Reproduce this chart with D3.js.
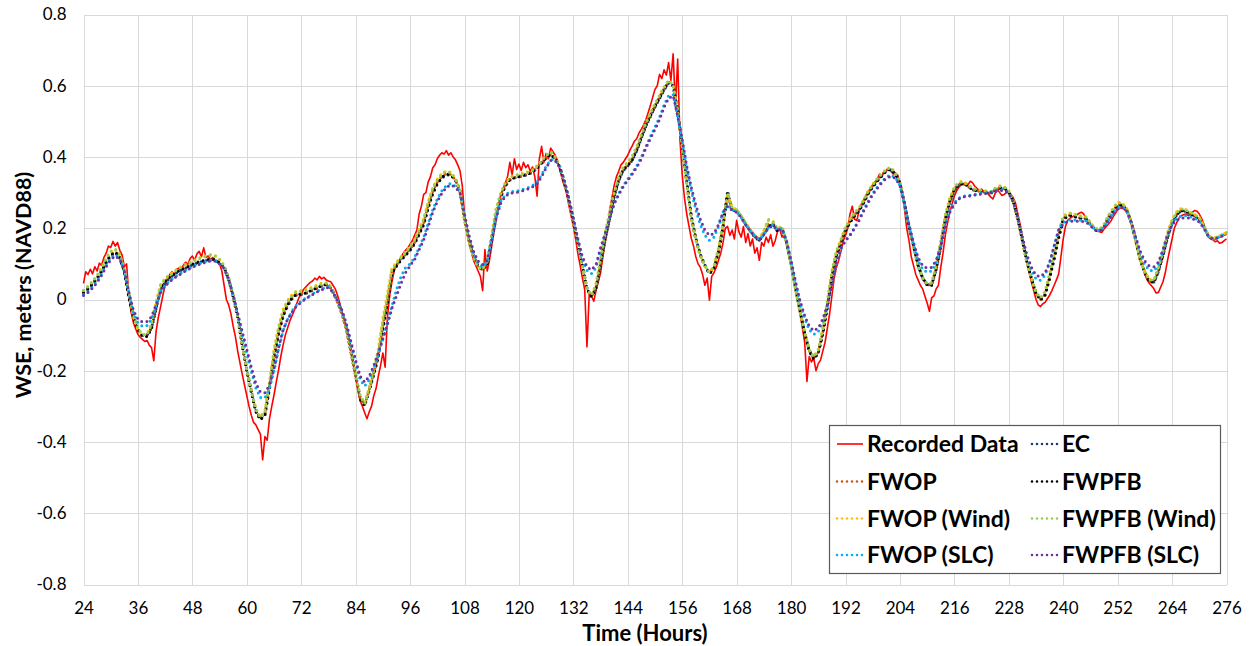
<!DOCTYPE html>
<html>
<head>
<meta charset="utf-8">
<script src="https://cdn.jsdelivr.net/npm/d3@7"></script>
<style>
  body { margin: 0; background: #fff; }
  svg text { font-family: Lato, "Liberation Sans", Arial, sans-serif; fill: #000; }
</style>
</head>
<body>
<svg id="chart" width="1253" height="646"></svg>
<script>
// ---- data -------------------------------------------------------------
// Model output: one value per hour, 24 h .. 276 h
const hours = d3.range(24, 277);
// Gauge record: one value per half hour, 24 h .. 276 h
const recordedTimes = d3.range(24, 276.25, 0.5);

const recorded = [
  0.045,0.078,0.070,0.085,0.072,0.092,0.080,0.102,0.096,0.118,0.130,0.150,0.146,0.163,0.150,0.160,0.138,0.125,0.092,0.100,0.010,-0.035,-0.065,-0.082,
  -0.098,-0.106,-0.112,-0.118,-0.115,-0.128,-0.135,-0.172,-0.090,-0.050,-0.020,0.012,0.040,0.060,0.070,0.078,0.068,0.085,0.088,0.080,0.096,0.105,0.098,0.115,
  0.122,0.110,0.128,0.135,0.120,0.145,0.118,0.122,0.112,0.118,0.108,0.104,0.100,0.080,0.040,0.000,-0.015,-0.040,-0.075,-0.105,-0.145,-0.178,-0.210,-0.240,
  -0.270,-0.300,-0.325,-0.345,-0.352,-0.365,-0.378,-0.450,-0.385,-0.395,-0.335,-0.300,-0.268,-0.232,-0.198,-0.160,-0.128,-0.100,-0.080,-0.060,-0.045,-0.030,-0.012,0.005,
  0.015,0.028,0.035,0.042,0.048,0.052,0.060,0.055,0.065,0.058,0.062,0.055,0.052,0.050,0.040,0.030,0.012,-0.010,-0.035,-0.060,-0.085,-0.115,-0.150,-0.185,
  -0.220,-0.255,-0.285,-0.300,-0.318,-0.335,-0.315,-0.300,-0.270,-0.250,-0.215,-0.185,-0.150,-0.190,-0.050,0.010,0.050,0.080,0.098,0.108,0.118,0.130,0.138,0.145,
  0.155,0.165,0.180,0.195,0.240,0.262,0.295,0.300,0.330,0.345,0.370,0.378,0.395,0.405,0.412,0.408,0.418,0.405,0.412,0.400,0.392,0.378,0.362,0.320,
  0.240,0.190,0.160,0.135,0.110,0.095,0.080,0.065,0.025,0.140,0.080,0.110,0.150,0.190,0.225,0.260,0.295,0.310,0.328,0.345,0.385,0.350,0.395,0.365,
  0.380,0.362,0.385,0.370,0.378,0.360,0.372,0.345,0.290,0.395,0.430,0.385,0.410,0.395,0.425,0.415,0.405,0.390,0.365,0.340,0.318,0.300,0.265,0.235,
  0.205,0.170,0.128,0.095,0.060,0.028,-0.133,0.015,0.010,-0.005,0.025,0.050,0.075,0.120,0.160,0.195,0.250,0.285,0.320,0.345,0.360,0.378,0.385,0.395,
  0.405,0.420,0.432,0.445,0.452,0.468,0.478,0.490,0.505,0.525,0.545,0.568,0.590,0.600,0.632,0.620,0.645,0.630,0.665,0.615,0.690,0.540,0.675,0.450,
  0.350,0.285,0.240,0.205,0.172,0.150,0.120,0.100,0.090,0.070,0.040,0.060,-0.002,0.065,0.075,0.090,0.110,0.130,0.160,0.200,0.205,0.180,0.195,0.170,
  0.222,0.190,0.175,0.205,0.160,0.185,0.150,0.170,0.130,0.145,0.110,0.160,0.150,0.175,0.160,0.182,0.150,0.165,0.190,0.198,0.175,0.185,0.160,0.130,
  0.100,0.075,0.035,0.000,-0.040,-0.080,-0.120,-0.230,-0.160,-0.175,-0.165,-0.200,-0.180,-0.170,-0.145,-0.120,-0.080,-0.040,0.010,0.060,0.090,0.110,0.135,0.165,
  0.180,0.200,0.240,0.262,0.225,0.222,0.250,0.268,0.280,0.292,0.302,0.310,0.322,0.330,0.338,0.352,0.345,0.358,0.362,0.368,0.360,0.352,0.355,0.350,
  0.325,0.305,0.255,0.200,0.165,0.120,0.095,0.070,0.055,0.040,0.030,0.010,-0.010,-0.033,0.005,0.010,0.030,0.040,0.090,0.130,0.180,0.215,0.245,0.268,
  0.290,0.305,0.315,0.322,0.325,0.328,0.322,0.332,0.328,0.318,0.312,0.305,0.310,0.302,0.306,0.295,0.288,0.282,0.298,0.308,0.300,0.292,0.295,0.300,
  0.300,0.295,0.285,0.270,0.240,0.210,0.170,0.140,0.105,0.075,0.048,0.025,0.000,-0.015,-0.020,-0.012,-0.008,0.002,0.012,0.025,0.040,0.055,0.072,0.120,
  0.170,0.205,0.223,0.228,0.232,0.235,0.238,0.242,0.245,0.240,0.230,0.220,0.212,0.205,0.198,0.192,0.190,0.188,0.198,0.205,0.212,0.220,0.232,0.242,
  0.252,0.256,0.258,0.252,0.248,0.240,0.220,0.200,0.170,0.140,0.120,0.095,0.070,0.055,0.045,0.038,0.030,0.018,0.020,0.035,0.050,0.075,0.110,0.140,
  0.170,0.200,0.215,0.228,0.235,0.238,0.240,0.236,0.238,0.245,0.250,0.248,0.240,0.228,0.212,0.190,0.175,0.170,0.168,0.162,0.165,0.158,0.160,0.165,
  0.170
];

const ec = [
  0.018,0.028,0.042,0.058,0.078,0.102,0.122,0.131,0.117,0.079,0.008,-0.048,
  -0.083,-0.100,-0.101,-0.080,-0.026,0.028,0.048,0.060,0.070,0.078,0.085,0.091,
  0.097,0.102,0.106,0.109,0.112,0.111,0.103,0.091,0.058,0.012,-0.047,-0.124,
  -0.196,-0.256,-0.310,-0.334,-0.322,-0.250,-0.162,-0.098,-0.048,-0.018,0.003,0.013,
  0.014,0.017,0.023,0.029,0.035,0.040,0.041,0.022,-0.004,-0.038,-0.082,-0.146,
  -0.210,-0.275,-0.294,-0.254,-0.210,-0.162,-0.084,-0.014,0.072,0.093,0.110,0.123,
  0.138,0.156,0.182,0.209,0.256,0.296,0.323,0.341,0.350,0.349,0.335,0.305,
  0.226,0.166,0.121,0.094,0.084,0.099,0.168,0.243,0.288,0.318,0.335,0.341,
  0.344,0.347,0.351,0.357,0.369,0.382,0.397,0.407,0.395,0.372,0.331,0.281,
  0.224,0.162,0.097,0.033,0.010,0.031,0.097,0.167,0.226,0.288,0.333,0.362,
  0.375,0.391,0.418,0.453,0.486,0.514,0.540,0.564,0.588,0.608,0.600,0.532,
  0.432,0.332,0.235,0.172,0.127,0.097,0.074,0.088,0.134,0.204,0.305,0.252,
  0.251,0.233,0.211,0.193,0.176,0.166,0.184,0.204,0.211,0.193,0.200,0.161,
  0.102,0.033,-0.032,-0.092,-0.142,-0.165,-0.149,-0.096,-0.022,0.062,0.122,0.158,
  0.193,0.216,0.234,0.249,0.271,0.296,0.316,0.332,0.347,0.361,0.365,0.352,
  0.329,0.271,0.207,0.152,0.097,0.062,0.042,0.041,0.084,0.146,0.222,0.273,
  0.306,0.321,0.325,0.318,0.308,0.305,0.303,0.300,0.298,0.307,0.312,0.312,
  0.302,0.276,0.227,0.167,0.107,0.062,0.020,0.001,0.013,0.059,0.113,0.172,
  0.223,0.234,0.236,0.230,0.228,0.226,0.212,0.196,0.192,0.204,0.229,0.247,
  0.264,0.264,0.252,0.216,0.166,0.112,0.077,0.052,0.049,0.079,0.123,0.173,
  0.213,0.237,0.249,0.247,0.240,0.234,0.226,0.206,0.179,0.170,0.174,0.180,
  0.185
];

const fwop = [
  0.022,0.032,0.046,0.062,0.082,0.107,0.127,0.134,0.120,0.080,0.015,-0.048,
  -0.086,-0.102,-0.102,-0.078,-0.020,0.034,0.052,0.064,0.073,0.081,0.088,0.094,
  0.100,0.105,0.109,0.112,0.115,0.113,0.104,0.090,0.056,0.006,-0.052,-0.130,
  -0.198,-0.258,-0.312,-0.335,-0.320,-0.245,-0.155,-0.090,-0.040,-0.012,0.008,0.017,
  0.017,0.020,0.026,0.032,0.038,0.042,0.042,0.020,-0.008,-0.042,-0.086,-0.150,
  -0.214,-0.278,-0.296,-0.252,-0.206,-0.155,-0.074,-0.004,0.078,0.097,0.114,0.127,
  0.142,0.160,0.188,0.216,0.264,0.304,0.330,0.346,0.354,0.351,0.336,0.303,
  0.222,0.162,0.118,0.092,0.083,0.102,0.174,0.248,0.292,0.322,0.338,0.343,
  0.346,0.349,0.353,0.359,0.371,0.384,0.399,0.409,0.395,0.371,0.328,0.277,
  0.220,0.156,0.092,0.029,0.008,0.034,0.102,0.174,0.232,0.292,0.337,0.366,
  0.378,0.394,0.422,0.456,0.490,0.518,0.544,0.568,0.592,0.611,0.600,0.528,
  0.428,0.326,0.230,0.168,0.124,0.094,0.074,0.088,0.136,0.206,0.298,0.252,
  0.250,0.233,0.212,0.194,0.177,0.167,0.188,0.212,0.214,0.194,0.202,0.160,
  0.098,0.028,-0.036,-0.094,-0.143,-0.166,-0.148,-0.092,-0.016,0.068,0.128,0.162,
  0.197,0.220,0.238,0.252,0.274,0.300,0.319,0.335,0.350,0.363,0.367,0.353,
  0.328,0.268,0.203,0.148,0.094,0.060,0.041,0.042,0.088,0.152,0.228,0.278,
  0.310,0.324,0.327,0.319,0.309,0.306,0.304,0.301,0.299,0.309,0.314,0.313,
  0.302,0.274,0.223,0.163,0.104,0.059,0.018,0.000,0.014,0.063,0.118,0.178,
  0.227,0.236,0.238,0.231,0.229,0.228,0.213,0.196,0.193,0.206,0.232,0.250,
  0.266,0.266,0.253,0.215,0.164,0.110,0.075,0.051,0.049,0.082,0.128,0.178,
  0.217,0.240,0.251,0.249,0.241,0.235,0.227,0.206,0.178,0.170,0.174,0.180,
  0.186
];

const fwpfb = [
  0.020,0.030,0.044,0.060,0.080,0.105,0.125,0.133,0.118,0.078,0.005,-0.050,
  -0.085,-0.103,-0.104,-0.082,-0.025,0.030,0.050,0.062,0.072,0.080,0.086,0.092,
  0.098,0.103,0.107,0.110,0.113,0.112,0.104,0.092,0.058,0.010,-0.050,-0.128,
  -0.200,-0.260,-0.315,-0.338,-0.325,-0.250,-0.160,-0.095,-0.045,-0.015,0.005,0.015,
  0.015,0.018,0.024,0.030,0.036,0.041,0.042,0.022,-0.005,-0.040,-0.085,-0.150,
  -0.215,-0.280,-0.298,-0.255,-0.210,-0.160,-0.080,-0.010,0.075,0.095,0.112,0.125,
  0.140,0.158,0.185,0.212,0.260,0.300,0.326,0.343,0.352,0.350,0.336,0.305,
  0.225,0.165,0.120,0.093,0.083,0.100,0.170,0.245,0.290,0.320,0.337,0.342,
  0.345,0.348,0.352,0.358,0.370,0.383,0.398,0.408,0.395,0.372,0.330,0.280,
  0.223,0.160,0.095,0.030,0.008,0.032,0.100,0.170,0.228,0.290,0.335,0.364,
  0.376,0.392,0.420,0.455,0.488,0.516,0.542,0.566,0.590,0.610,0.600,0.530,
  0.430,0.330,0.232,0.170,0.125,0.095,0.072,0.088,0.135,0.205,0.300,0.250,
  0.250,0.232,0.210,0.192,0.175,0.165,0.185,0.205,0.212,0.192,0.200,0.160,
  0.100,0.030,-0.035,-0.095,-0.145,-0.168,-0.150,-0.095,-0.020,0.065,0.125,0.160,
  0.195,0.218,0.236,0.250,0.272,0.298,0.317,0.333,0.348,0.362,0.366,0.352,
  0.328,0.270,0.205,0.150,0.095,0.060,0.040,0.040,0.085,0.148,0.225,0.275,
  0.308,0.322,0.326,0.318,0.308,0.305,0.303,0.300,0.298,0.308,0.313,0.312,
  0.302,0.275,0.225,0.165,0.105,0.060,0.017,-0.002,0.012,0.060,0.115,0.175,
  0.225,0.235,0.237,0.230,0.228,0.227,0.212,0.195,0.192,0.205,0.230,0.248,
  0.265,0.265,0.252,0.215,0.165,0.110,0.075,0.050,0.048,0.080,0.125,0.175,
  0.215,0.238,0.250,0.248,0.240,0.234,0.226,0.205,0.178,0.170,0.174,0.180,
  0.186
];

const fwopWind = [
  0.026,0.038,0.052,0.068,0.090,0.117,0.136,0.140,0.125,0.082,0.016,-0.048,
  -0.084,-0.099,-0.097,-0.066,-0.005,0.043,0.060,0.070,0.080,0.088,0.096,0.102,
  0.108,0.114,0.119,0.123,0.126,0.124,0.113,0.096,0.060,0.010,-0.050,-0.127,
  -0.196,-0.256,-0.307,-0.330,-0.312,-0.230,-0.140,-0.076,-0.028,-0.002,0.015,0.025,
  0.025,0.028,0.033,0.038,0.044,0.048,0.046,0.024,-0.006,-0.041,-0.083,-0.146,
  -0.210,-0.270,-0.290,-0.246,-0.195,-0.138,-0.052,0.016,0.088,0.104,0.120,0.134,
  0.150,0.168,0.198,0.228,0.275,0.314,0.338,0.354,0.361,0.357,0.340,0.306,
  0.222,0.160,0.116,0.091,0.085,0.110,0.186,0.258,0.300,0.328,0.344,0.350,
  0.352,0.355,0.359,0.364,0.376,0.390,0.405,0.415,0.400,0.374,0.330,0.278,
  0.220,0.156,0.093,0.031,0.012,0.045,0.114,0.186,0.248,0.300,0.344,0.372,
  0.386,0.404,0.430,0.464,0.497,0.524,0.550,0.574,0.597,0.616,0.602,0.528,
  0.428,0.322,0.226,0.166,0.123,0.094,0.076,0.094,0.146,0.216,0.300,0.258,
  0.253,0.236,0.216,0.197,0.181,0.171,0.194,0.222,0.220,0.199,0.206,0.162,
  0.097,0.027,-0.036,-0.092,-0.139,-0.160,-0.139,-0.080,-0.002,0.083,0.138,0.170,
  0.204,0.227,0.244,0.258,0.280,0.306,0.324,0.340,0.354,0.367,0.371,0.355,
  0.329,0.268,0.203,0.148,0.094,0.061,0.044,0.048,0.099,0.165,0.240,0.286,
  0.316,0.330,0.332,0.323,0.313,0.309,0.307,0.305,0.303,0.313,0.319,0.317,
  0.305,0.275,0.223,0.163,0.104,0.059,0.020,0.005,0.023,0.075,0.130,0.190,
  0.235,0.242,0.243,0.237,0.234,0.233,0.217,0.200,0.197,0.212,0.238,0.256,
  0.274,0.271,0.256,0.217,0.165,0.111,0.077,0.056,0.055,0.091,0.139,0.189,
  0.225,0.246,0.256,0.253,0.245,0.239,0.231,0.208,0.180,0.172,0.176,0.182,
  0.188
];

const fwpfbWind = [
  0.025,0.036,0.050,0.066,0.088,0.115,0.135,0.142,0.128,0.085,0.020,-0.045,
  -0.082,-0.098,-0.098,-0.070,-0.010,0.040,0.058,0.068,0.078,0.086,0.094,0.100,
  0.106,0.112,0.117,0.121,0.124,0.122,0.112,0.095,0.062,0.012,-0.048,-0.125,
  -0.195,-0.255,-0.308,-0.332,-0.315,-0.235,-0.145,-0.080,-0.032,-0.005,0.012,0.022,
  0.022,0.025,0.030,0.036,0.042,0.046,0.045,0.024,-0.005,-0.040,-0.082,-0.145,
  -0.210,-0.272,-0.292,-0.250,-0.200,-0.145,-0.060,0.010,0.085,0.102,0.118,0.132,
  0.148,0.166,0.195,0.225,0.272,0.312,0.336,0.352,0.360,0.356,0.340,0.308,
  0.225,0.162,0.118,0.092,0.085,0.108,0.182,0.255,0.298,0.326,0.342,0.348,
  0.350,0.353,0.357,0.362,0.374,0.388,0.404,0.414,0.400,0.375,0.332,0.280,
  0.222,0.158,0.095,0.032,0.012,0.042,0.110,0.182,0.245,0.298,0.342,0.370,
  0.384,0.402,0.428,0.462,0.495,0.522,0.548,0.572,0.595,0.615,0.602,0.530,
  0.430,0.325,0.228,0.168,0.124,0.095,0.076,0.092,0.142,0.212,0.298,0.258,
  0.252,0.235,0.215,0.196,0.180,0.170,0.192,0.225,0.218,0.198,0.205,0.162,
  0.098,0.028,-0.035,-0.092,-0.140,-0.162,-0.142,-0.085,-0.008,0.078,0.135,0.168,
  0.202,0.225,0.242,0.256,0.278,0.304,0.322,0.338,0.352,0.366,0.370,0.355,
  0.330,0.270,0.205,0.150,0.095,0.062,0.044,0.046,0.095,0.160,0.235,0.282,
  0.314,0.328,0.330,0.322,0.312,0.308,0.306,0.304,0.302,0.312,0.318,0.316,
  0.305,0.276,0.225,0.165,0.105,0.060,0.020,0.004,0.020,0.070,0.125,0.185,
  0.232,0.240,0.242,0.236,0.233,0.232,0.216,0.200,0.196,0.210,0.236,0.254,
  0.272,0.270,0.256,0.218,0.166,0.112,0.078,0.056,0.054,0.088,0.135,0.185,
  0.222,0.244,0.255,0.252,0.244,0.238,0.230,0.208,0.180,0.172,0.176,0.182,
  0.188
];

const fwopSlc = [
  0.014,0.022,0.035,0.052,0.072,0.096,0.116,0.126,0.116,0.080,0.020,-0.038,
  -0.065,-0.075,-0.073,-0.055,-0.018,0.022,0.040,0.052,0.062,0.070,0.078,0.086,
  0.092,0.098,0.103,0.107,0.110,0.109,0.101,0.088,0.056,0.010,-0.042,-0.098,
  -0.150,-0.202,-0.248,-0.275,-0.276,-0.250,-0.200,-0.140,-0.088,-0.055,-0.032,-0.015,
  -0.005,0.004,0.012,0.020,0.026,0.032,0.036,0.021,-0.002,-0.032,-0.074,-0.126,
  -0.178,-0.225,-0.243,-0.225,-0.192,-0.155,-0.112,-0.066,-0.018,0.028,0.064,0.090,
  0.100,0.118,0.146,0.175,0.214,0.252,0.282,0.305,0.320,0.326,0.318,0.302,
  0.238,0.176,0.130,0.102,0.092,0.106,0.166,0.235,0.275,0.294,0.302,0.304,
  0.306,0.310,0.314,0.320,0.330,0.350,0.374,0.392,0.392,0.372,0.334,0.284,
  0.226,0.166,0.112,0.082,0.073,0.090,0.140,0.185,0.230,0.270,0.298,0.320,
  0.338,0.356,0.376,0.400,0.430,0.458,0.484,0.512,0.546,0.572,0.575,0.512,
  0.445,0.368,0.305,0.252,0.210,0.180,0.166,0.175,0.205,0.245,0.265,0.252,
  0.246,0.231,0.211,0.193,0.178,0.168,0.183,0.202,0.209,0.195,0.199,0.164,
  0.108,0.046,-0.010,-0.052,-0.085,-0.098,-0.090,-0.062,-0.020,0.040,0.100,0.142,
  0.166,0.182,0.202,0.225,0.252,0.276,0.298,0.316,0.332,0.344,0.350,0.342,
  0.320,0.268,0.206,0.155,0.110,0.085,0.076,0.080,0.105,0.152,0.210,0.250,
  0.272,0.285,0.290,0.292,0.294,0.296,0.298,0.300,0.302,0.306,0.308,0.308,
  0.298,0.274,0.228,0.172,0.120,0.082,0.058,0.054,0.068,0.102,0.150,0.198,
  0.216,0.222,0.224,0.223,0.222,0.221,0.210,0.196,0.192,0.204,0.224,0.243,
  0.258,0.260,0.249,0.216,0.170,0.128,0.098,0.082,0.080,0.098,0.138,0.182,
  0.214,0.228,0.234,0.235,0.232,0.228,0.220,0.202,0.178,0.170,0.173,0.179,
  0.185
];

const fwpfbSlc = [
  0.011,0.020,0.032,0.048,0.068,0.092,0.112,0.122,0.113,0.080,0.022,-0.030,
  -0.055,-0.063,-0.062,-0.048,-0.015,0.020,0.038,0.050,0.060,0.068,0.076,0.084,
  0.090,0.096,0.101,0.105,0.108,0.108,0.100,0.087,0.056,0.012,-0.038,-0.090,
  -0.140,-0.190,-0.235,-0.260,-0.262,-0.240,-0.195,-0.135,-0.085,-0.055,-0.035,-0.018,
  -0.008,0.002,0.010,0.018,0.024,0.030,0.034,0.020,-0.002,-0.030,-0.070,-0.120,
  -0.170,-0.215,-0.232,-0.215,-0.185,-0.150,-0.110,-0.070,-0.025,0.010,0.045,0.075,
  0.095,0.112,0.140,0.167,0.205,0.245,0.275,0.298,0.315,0.322,0.315,0.300,
  0.240,0.180,0.135,0.108,0.098,0.110,0.165,0.230,0.270,0.290,0.298,0.300,
  0.302,0.306,0.310,0.316,0.325,0.345,0.370,0.390,0.390,0.372,0.335,0.285,
  0.228,0.170,0.120,0.092,0.083,0.098,0.145,0.185,0.228,0.268,0.295,0.317,
  0.335,0.352,0.372,0.395,0.425,0.452,0.478,0.505,0.540,0.565,0.572,0.515,
  0.450,0.375,0.315,0.265,0.225,0.195,0.180,0.185,0.210,0.245,0.262,0.250,
  0.245,0.230,0.210,0.192,0.178,0.168,0.182,0.200,0.208,0.195,0.198,0.165,
  0.110,0.050,-0.005,-0.045,-0.075,-0.088,-0.080,-0.055,-0.015,0.045,0.105,0.145,
  0.165,0.180,0.200,0.222,0.248,0.272,0.295,0.312,0.328,0.340,0.346,0.340,
  0.320,0.270,0.210,0.160,0.118,0.095,0.088,0.090,0.110,0.150,0.205,0.245,
  0.268,0.282,0.288,0.290,0.292,0.294,0.296,0.298,0.300,0.304,0.306,0.306,
  0.298,0.275,0.230,0.175,0.125,0.090,0.068,0.064,0.075,0.105,0.150,0.195,
  0.212,0.218,0.220,0.220,0.219,0.218,0.208,0.195,0.192,0.203,0.222,0.240,
  0.255,0.258,0.248,0.218,0.175,0.135,0.108,0.094,0.092,0.105,0.140,0.180,
  0.210,0.222,0.228,0.230,0.228,0.224,0.218,0.200,0.178,0.170,0.172,0.178,
  0.184
];

const xTicks = [24, 36, 48, 60, 72, 84, 96, 108, 120, 132, 144, 156, 168, 180, 192, 204, 216, 228, 240, 252, 264, 276];
const yTicks = [-0.8, -0.6, -0.4, -0.2, 0, 0.2, 0.4, 0.6, 0.8];
const yTickLabels = ["-0.8", "-0.6", "-0.4", "-0.2", "0", "0.2", "0.4", "0.6", "0.8"];

const seriesNames  = ["Recorded Data", "EC", "FWOP", "FWPFB", "FWOP (Wind)", "FWPFB (Wind)", "FWOP (SLC)", "FWPFB (SLC)"];
const seriesColors = ["#ff0000", "#1f3a78", "#c55a11", "#000000", "#ffc000", "#92d050", "#00b0f0", "#7030a0"];
const seriesValues = [recorded, ec, fwop, fwpfb, fwopWind, fwpfbWind, fwopSlc, fwpfbSlc];

// ---- layout ------------------------------------------------------------
const svg = d3.select("#chart");
const plot = { left: 83.5, right: 1226.5, top: 14.5, bottom: 584.5 };

const x = d3.scaleLinear().domain([24, 276]).range([plot.left, plot.right]);
const y = d3.scaleLinear().domain([-0.8, 0.8]).range([plot.bottom, plot.top]);

// gridlines
const grid = svg.append("g").attr("shape-rendering", "crispEdges");
grid.selectAll("line.v").data(xTicks).join("line")
  .attr("class", "v")
  .attr("x1", d => Math.round(x(d)) + 0.5).attr("x2", d => Math.round(x(d)) + 0.5)
  .attr("y1", plot.top).attr("y2", plot.bottom)
  .attr("stroke", "#d9d9d9").attr("stroke-width", 1);
grid.selectAll("line.h").data(yTicks).join("line")
  .attr("class", "h")
  .attr("x1", plot.left).attr("x2", plot.right)
  .attr("y1", d => Math.round(y(d)) + 0.5).attr("y2", d => Math.round(y(d)) + 0.5)
  .attr("stroke", "#d9d9d9").attr("stroke-width", 1);

// axes: labels only, the gridlines already frame the plot
const yAxis = d3.axisLeft(y).tickValues(yTicks)
  .tickFormat((d, i) => yTickLabels[i]).tickSize(0).tickPadding(17);
const xAxis = d3.axisBottom(x).tickValues(xTicks)
  .tickFormat(d => String(d)).tickSize(0).tickPadding(17);

const gy = svg.append("g").attr("transform", `translate(${plot.left},0)`).call(yAxis);
const gx = svg.append("g").attr("transform", `translate(0,${plot.bottom})`).call(xAxis);
[gx, gy].forEach(g => {
  g.select(".domain").remove();
  g.selectAll("text").attr("font-size", 17).attr("fill", "#000")
    .style("font-family", "Lato, 'Liberation Sans', Arial, sans-serif");
});

// axis titles
svg.append("text")
  .attr("x", 645).attr("y", 641)
  .attr("text-anchor", "middle")
  .attr("font-size", 22).attr("font-weight", "bold")
  .text("Time (Hours)");
svg.append("text")
  .attr("transform", "translate(31,285) rotate(-90)")
  .attr("text-anchor", "middle")
  .attr("font-size", 21.5).attr("font-weight", "bold")
  .text("WSE, meters (NAVD88)");

// ---- series ------------------------------------------------------------
const line = d3.line().x(d => x(d[0])).y(d => y(d[1]));
const lines = svg.append("g").attr("fill", "none");

seriesValues.forEach((vals, i) => {
  const times = i === 0 ? recordedTimes : hours;
  const pts = vals.map((v, j) => [times[j], v]);
  const path = lines.append("path")
    .datum(pts)
    .attr("d", line)
    .attr("stroke", seriesColors[i])
    .attr("stroke-linejoin", "round");
  if (i === 0) {
    path.attr("stroke-width", 1.6);
  } else {
    path.attr("stroke-width", 3)
      .attr("stroke-linecap", "round")
      .attr("stroke-dasharray", "0 5.4");
  }
});

// ---- legend ------------------------------------------------------------
const legend = svg.append("g");
legend.append("rect")
  .attr("x", 829.5).attr("y", 425.5).attr("width", 391).attr("height", 148)
  .attr("fill", "#fff").attr("stroke", "#595959").attr("stroke-width", 1.2);

const rowY = [444, 481.5, 518.5, 555];
const colX = [836, 1031];
seriesNames.forEach((name, i) => {
  const cx = colX[i % 2], cy = rowY[Math.floor(i / 2)];
  const s = legend.append("line")
    .attr("x1", cx + 1).attr("x2", cx + 27).attr("y1", cy).attr("y2", cy)
    .attr("stroke", seriesColors[i]);
  if (i === 0) {
    s.attr("stroke-width", 1.6);
  } else {
    s.attr("stroke-width", 2.6).attr("stroke-linecap", "round").attr("stroke-dasharray", "0 5");
  }
  legend.append("text")
    .attr("x", cx + 31).attr("y", cy).attr("dy", "0.35em")
    .attr("font-size", 23).attr("font-weight", "bold")
    .text(name);
});
</script>
</body>
</html>
